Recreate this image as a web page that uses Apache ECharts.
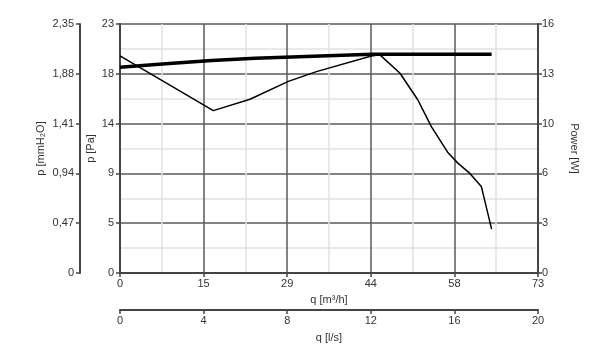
<!DOCTYPE html>
<html>
<head>
<meta charset="utf-8">
<script src="https://cdn.jsdelivr.net/npm/echarts@6/dist/echarts.min.js"></script>
<style>
  html, body { margin: 0; padding: 0; background: #fff; }
  #main { width: 593px; height: 353px; }
</style>
</head>
<body>
<div id="main"></div>
<script>
// pressure curve (Pa) against flow q [m3/h]
var pressQ = [0, 16.3, 22.7, 29.4, 34.3, 43.9, 45.4, 48.9, 52.0, 54.4, 57.3, 59.0, 61.1, 63.1, 64.9];
var pressPa = [20.05, 15.0, 16.05, 17.7, 18.6, 20.05, 20.15, 18.45, 16.0, 13.5, 11.1, 10.15, 9.2, 8.0, 4.05];

// power curve (W)
var powerQ = [0, 8, 16, 23.6, 35, 44, 55, 64.9];
var powerW = [13.22, 13.45, 13.65, 13.8, 13.95, 14.05, 14.05, 14.05];

// tick labels
var qTicks = ['0', '15', '29', '44', '58', '73'];
var lsTicks = ['0', '4', '8', '12', '16', '20'];
var paTicks = ['0', '5', '9', '14', '18', '23'];
var mmTicks = ['0', '0,47', '0,94', '1,41', '1,88', '2,35'];
var wTicks = ['0', '3', '6', '10', '13', '16'];

function pairs(xs, ys) {
  return xs.map(function (x, i) { return [x, ys[i]]; });
}
function fromList(list) {
  return function (v, i) { return list[i] !== undefined ? list[i] : ''; };
}

var txt = { color: '#333', fontFamily: 'Liberation Sans, Arial, sans-serif', fontSize: 11 };
var axisLn = { show: true, onZero: false, lineStyle: { color: '#444', width: 2 } };
var tick = { show: true, length: 4, lineStyle: { color: '#444', width: 1.5 } };

var myChart = echarts.init(document.getElementById('main'));

var option = {
  animation: false,
  grid: { left: 120, right: 55, top: 24, bottom: 80 },
  xAxis: [{
    type: 'value', min: 0, max: 73, interval: 14.6, position: 'bottom',
    name: 'q [m³/h]', nameLocation: 'middle', nameGap: 21, nameTextStyle: txt,
    axisLine: axisLn,
    axisTick: tick,
    axisLabel: Object.assign({ formatter: fromList(qTicks), margin: 5 }, txt),
    splitLine: { show: true, lineStyle: { color: '#5a5a5a', width: 1.5 } },
    minorTick: { show: false, splitNumber: 2 },
    minorSplitLine: { show: true, lineStyle: { color: '#e2e2e2', width: 1.5 } }
  }, {
    type: 'value', min: 0, max: 20, interval: 4, position: 'bottom', offset: 37,
    name: 'q [l/s]', nameLocation: 'middle', nameGap: 22, nameTextStyle: txt,
    axisLine: axisLn,
    axisTick: tick,
    axisLabel: Object.assign({ formatter: fromList(lsTicks), margin: 5 }, txt),
    splitLine: { show: false }
  }],
  yAxis: [{
    type: 'value', min: 0, max: 23, interval: 4.6, position: 'left',
    name: 'p [Pa]', nameLocation: 'middle', nameGap: 24, nameMoveOverlap: false, nameTextStyle: txt,
    axisLine: axisLn,
    axisTick: tick,
    axisLabel: Object.assign({ formatter: fromList(paTicks), margin: 6 }, txt),
    splitLine: { show: true, lineStyle: { color: '#5a5a5a', width: 1.5 } },
    minorTick: { show: false, splitNumber: 2 },
    minorSplitLine: { show: true, lineStyle: { color: '#e2e2e2', width: 1.5 } }
  }, {
    type: 'value', min: 0, max: 2.35, interval: 0.47, position: 'left', offset: 40,
    name: 'p [mmH₂O]', nameLocation: 'middle', nameGap: 34, nameMoveOverlap: false, nameTextStyle: txt,
    axisLine: axisLn,
    axisTick: tick,
    axisLabel: Object.assign({ formatter: fromList(mmTicks), margin: 6 }, txt),
    splitLine: { show: false }
  }, {
    type: 'value', min: 0, max: 16, interval: 3.2, position: 'right',
    name: 'Power [W]', nameLocation: 'middle', nameGap: 31, nameRotate: -90, nameTextStyle: txt,
    axisLine: axisLn,
    axisTick: tick,
    axisLabel: Object.assign({ formatter: fromList(wTicks), margin: 4 }, txt),
    splitLine: { show: false }
  }],
  series: [{
    name: 'p',
    type: 'line',
    xAxisIndex: 0, yAxisIndex: 0,
    data: pairs(pressQ, pressPa),
    showSymbol: false, symbol: 'none',
    lineStyle: { color: '#000', width: 1.5 },
    z: 3
  }, {
    name: 'Power',
    type: 'line',
    xAxisIndex: 0, yAxisIndex: 2,
    data: pairs(powerQ, powerW),
    showSymbol: false, symbol: 'none',
    lineStyle: { color: '#000', width: 3.5 },
    z: 4
  }]
};

myChart.setOption(option);
</script>
</body>
</html>
